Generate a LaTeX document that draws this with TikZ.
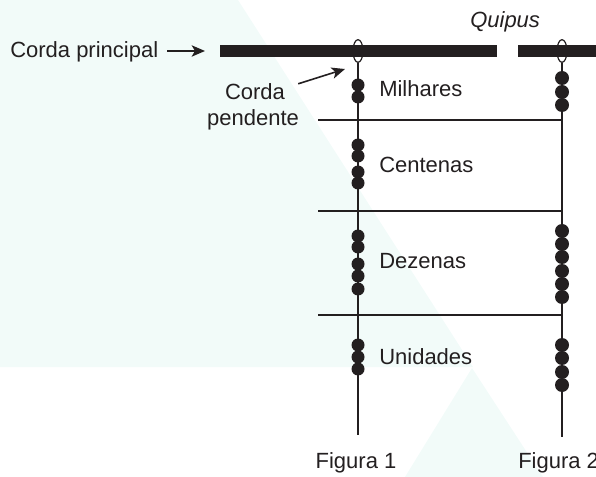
\documentclass[tikz,border=0pt]{standalone}
\usepackage{fontspec}
\setmainfont{Liberation Sans}
\usetikzlibrary{shapes.geometric, arrows.meta, positioning, calc}
\definecolor{tinta}{RGB}{35,31,32}
\definecolor{marca}{RGB}{242,251,249}

\begin{document}
\begin{tikzpicture}[
  x=0.75pt, y=-0.75pt,
  font=\fontsize{16.5}{19.5}\selectfont,
  % ---- Text and cord styles ----
  rotulo/.style={inner sep=0pt, text=tinta, anchor=base west},
  barra/.style={fill=tinta, inner sep=0pt, minimum height=9pt, anchor=west},
  fio/.style={draw=tinta, line width=1.1pt},
  laco/.style={ellipse, draw=tinta, fill=white, line width=0.9pt,
    minimum width=7.5pt, minimum height=17pt, inner sep=0pt},
  conta/.style={fill=tinta},
  % ---- Arrow style ----
  seta/.style={-{Stealth[length=10pt, width=8.5pt, inset=2.5pt]}, draw=tinta, line width=1.2pt},
]
\useasboundingbox (0,0) rectangle (596,477);

% ---- Faint background shapes ----
\fill[marca] (0,0) -- (238,0) -- (473,367) -- (0,367) -- cycle;
\fill[marca] (472,368) -- (405,477) -- (543,477) -- cycle;

% ---- Loops (under the main cord) ----
\node[laco] (laco1) at (358,51) {};
\node[laco] (laco2) at (562,51) {};

% ---- Main cord ----
\node[barra, minimum width=207.75pt] (barra1) at (220,51) {};
\node[barra, minimum width=61.5pt]   (barra2) at (518,51) {};

% ---- Pendant cords ----
\coordinate (fim1) at (358,435);
\coordinate (fim2) at (562,437);
\draw[fio] (laco1.south) -- (fim1);
\draw[fio] (laco2.south) -- (fim2);

% ---- Place-value separators ----
\foreach \y in {120,211,315}
  \draw[fio] (318,\y) -- (fim2 |- 0,\y);

% ---- Knots: Figura 1 ----
\foreach \y in {85,97, 145,156,172,183, 236,247,264,276,289, 345,357,369}
  \fill[conta] (fim1 |- 0,\y) circle (6.5);

% ---- Knots: Figura 2 ----
\foreach \y in {78,92,105, 231,244,257,271,284,297, 345,358,372,385}
  \fill[conta] (fim2 |- 0,\y) circle (7);

% ---- Labels ----
\node[rotulo] (principal) at (10,58) {Corda principal};
\node[rotulo] (quipus) at (470,28) {\itshape Quipus};
\node[rotulo, anchor=base] (corda) at (255,100) {Corda};
\node[rotulo, anchor=base] (pendente) at (253,126) {pendente};
\node[rotulo] (milhares) at (379,97)  {Milhares};
\node[rotulo] (centenas) at (379,173) {Centenas};
\node[rotulo] (dezenas)  at (379,269) {Dezenas};
\node[rotulo] (unidades) at (379,364) {Unidades};
\node[rotulo, anchor=base] (fig1) at (356,468) {Figura 1};
\node[rotulo] (fig2) at (518,468) {Figura 2};

% ---- Pointer arrows ----
\draw[seta, shorten <=6.75pt, shorten >=11.25pt]
  (principal.east |- barra1.west) -- (barra1.west);
\coordinate (alvo) at (345,69);
\draw[seta] ($(corda.north east)+(13,0)$) -- (alvo);
\end{tikzpicture}
\end{document}
